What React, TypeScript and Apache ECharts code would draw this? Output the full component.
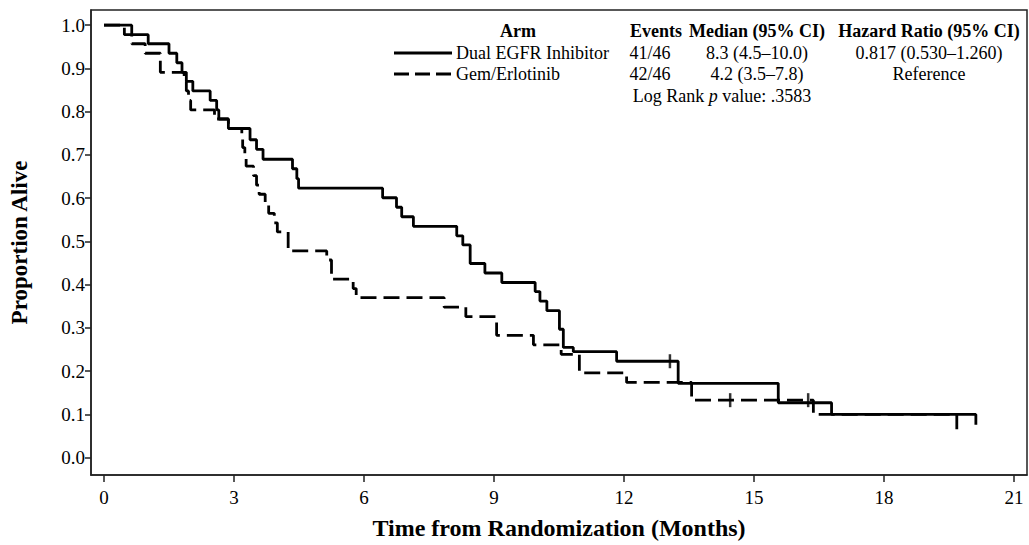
import React, { useEffect, useRef } from "react";
import * as echarts from "echarts";

// Dual EGFR Inhibitor (solid) Kaplan-Meier steps: time (months) and survival after the step
const solidTimes = [0, 0.64, 1.02, 1.5, 1.68, 1.8, 1.9, 2.05, 2.45, 2.6, 2.65, 2.87, 3.37, 3.52, 3.67, 4.35, 4.45, 4.49, 6.43, 6.75, 6.87, 7.14, 8.14, 8.28, 8.45, 8.79, 9.18, 9.95, 10.06, 10.22, 10.51, 10.6, 10.83, 11.83, 13.25, 15.56, 16.79, 20.12];
const solidSurv = [1, 0.978, 0.957, 0.935, 0.913, 0.891, 0.87, 0.848, 0.826, 0.804, 0.783, 0.761, 0.735, 0.713, 0.69, 0.668, 0.645, 0.623, 0.601, 0.579, 0.557, 0.535, 0.513, 0.492, 0.449, 0.427, 0.405, 0.384, 0.362, 0.34, 0.297, 0.255, 0.245, 0.223, 0.172, 0.127, 0.1, 0.076];
const solidCensorTimes = [13.06];
const solidCensorSurv = [0.223];

// Gem/Erlotinib (dashed)
const dashTimes = [0, 0.47, 0.64, 0.95, 1.3, 1.85, 1.9, 1.95, 2.0, 2.55, 2.87, 3.18, 3.2, 3.25, 3.28, 3.45, 3.52, 3.58, 3.72, 3.8, 3.93, 4.0, 4.25, 5.14, 5.25, 5.75, 5.82, 7.85, 8.35, 9.06, 9.91, 10.55, 10.97, 12.06, 13.56, 16.37, 19.68];
const dashSurv = [1, 0.978, 0.957, 0.935, 0.891, 0.87, 0.848, 0.826, 0.804, 0.783, 0.761, 0.739, 0.717, 0.696, 0.674, 0.652, 0.63, 0.609, 0.587, 0.565, 0.543, 0.522, 0.478, 0.457, 0.413, 0.391, 0.37, 0.348, 0.326, 0.283, 0.261, 0.239, 0.196, 0.174, 0.133, 0.1, 0.066];
const dashCensorTimes = [14.45, 16.25];
const dashCensorSurv = [0.133, 0.133];

const xTicks = [0, 3, 6, 9, 12, 15, 18, 21];
const yTicks = [0, 0.1, 0.2, 0.3, 0.4, 0.5, 0.6, 0.7, 0.8, 0.9, 1.0];

const headers = ["Arm", "Events", "Median (95% CI)", "Hazard Ratio (95% CI)"];
const armNames = ["Dual EGFR Inhibitor", "Gem/Erlotinib"];
const armEvents = ["41/46", "42/46"];
const armMedians = ["8.3 (4.5\u201310.0)", "4.2 (3.5\u20137.8)"];
const armHR = ["0.817 (0.530\u20131.260)", "Reference"];
const logRankP = ".3583";

const FONT = "'Liberation Serif', 'Times New Roman', serif";

const zip = (a: number[], b: number[]) => a.map((t, i) => [t, b[i]]);

export default function App() {
  const ref = useRef<HTMLDivElement>(null);
  useEffect(() => {
    document.body.style.margin = "0";
    if (!ref.current) return;
    const chart = echarts.init(ref.current, undefined, { renderer: "svg" });
    const txt = (text: string, x: number, y: number, align: string, bold = false) => ({
      type: "text",
      x,
      y,
      style: {
        text,
        textAlign: align,
        textVerticalAlign: "middle",
        fontFamily: FONT,
        fontSize: 18,
        fontWeight: bold ? "bold" : "normal",
        fill: "#000",
      },
    });
    const colX = [518, 656, 757, 929];
    const rowY = [31, 53, 74, 96];
    const graphics: any[] = [
      txt(headers[0], colX[0], rowY[0], "center", true),
      txt(headers[1], colX[1], rowY[0], "center", true),
      txt(headers[2], colX[2], rowY[0], "center", true),
      txt(headers[3], colX[3], rowY[0], "center", true),
      {
        type: "line",
        shape: { x1: 394, y1: rowY[1], x2: 452, y2: rowY[1] },
        style: { stroke: "#000", lineWidth: 2.8 },
      },
      {
        type: "line",
        shape: { x1: 394, y1: rowY[2], x2: 452, y2: rowY[2] },
        style: { stroke: "#000", lineWidth: 2.8, lineDash: [15, 6] },
      },
    ];
    for (let i = 0; i < 2; i++) {
      graphics.push(txt(armNames[i], 456, rowY[i + 1], "left"));
      graphics.push(txt(armEvents[i], 650, rowY[i + 1], "center"));
      graphics.push(txt(armMedians[i], colX[2], rowY[i + 1], "center"));
      graphics.push(txt(armHR[i], colX[3], rowY[i + 1], "center"));
    }
    graphics.push({
      type: "text",
      x: 722,
      y: rowY[3],
      style: {
        text: "Log Rank {i|p} value: " + logRankP,
        textAlign: "center",
        textVerticalAlign: "middle",
        fontFamily: FONT,
        fontSize: 18,
        fill: "#000",
        rich: { i: { fontStyle: "italic", fontFamily: FONT, fontSize: 18, fill: "#000" } },
      },
    });

    chart.setOption({
      animation: false,
      grid: {
        left: 91,
        top: 10,
        right: 2,
        bottom: 66,
        show: true,
        borderColor: "#222",
        borderWidth: 1.5,
      },
      xAxis: {
        type: "value",
        min: -0.3,
        max: 21.3,
        axisLine: { show: true, onZero: false, lineStyle: { color: "#222", width: 1.5 } },
        axisTick: { show: true, customValues: xTicks, length: 7, lineStyle: { color: "#222", width: 1.5 } },
        axisLabel: { customValues: xTicks, margin: 13, fontFamily: FONT, fontSize: 19, color: "#000" },
        splitLine: { show: false },
        name: "Time from Randomization (Months)",
        nameLocation: "middle",
        nameGap: 41,
        nameTextStyle: { fontFamily: FONT, fontSize: 24, fontWeight: "bold", color: "#000" },
      },
      yAxis: {
        type: "value",
        min: -0.04,
        max: 1.035,
        axisLine: { show: true, onZero: false, lineStyle: { color: "#222", width: 1.5 } },
        axisTick: { show: true, customValues: yTicks, length: 6, lineStyle: { color: "#222", width: 1.5 } },
        axisLabel: {
          customValues: yTicks,
          margin: 6,
          fontFamily: FONT,
          fontSize: 19,
          color: "#000",
          formatter: (v: number) => v.toFixed(1),
        },
        splitLine: { show: false },
        name: "Proportion Alive",
        nameLocation: "middle",
        nameGap: 60,
        nameRotate: 90,
        nameTextStyle: { fontFamily: FONT, fontSize: 23, fontWeight: "bold", color: "#000" },
      },
      series: [
        {
          type: "line",
          step: "end",
          symbol: "none",
          data: zip(solidTimes, solidSurv),
          lineStyle: { color: "#000", width: 2.8 },
          z: 3,
        },
        {
          type: "line",
          step: "end",
          symbol: "none",
          data: zip(dashTimes, dashSurv),
          lineStyle: { color: "#000", width: 2.8, type: [16, 7] },
          z: 3,
        },
        {
          type: "scatter",
          symbol: "rect",
          symbolSize: [2.5, 14],
          data: zip(solidCensorTimes, solidCensorSurv),
          itemStyle: { color: "#000" },
          z: 4,
        },
        {
          type: "scatter",
          symbol: "rect",
          symbolSize: [2.5, 14],
          data: zip(dashCensorTimes, dashCensorSurv),
          itemStyle: { color: "#000" },
          z: 4,
        },
      ],
      graphic: graphics,
    });
    return () => chart.dispose();
  }, []);
  return <div ref={ref} style={{ width: 1029, height: 545 }} />;
}
